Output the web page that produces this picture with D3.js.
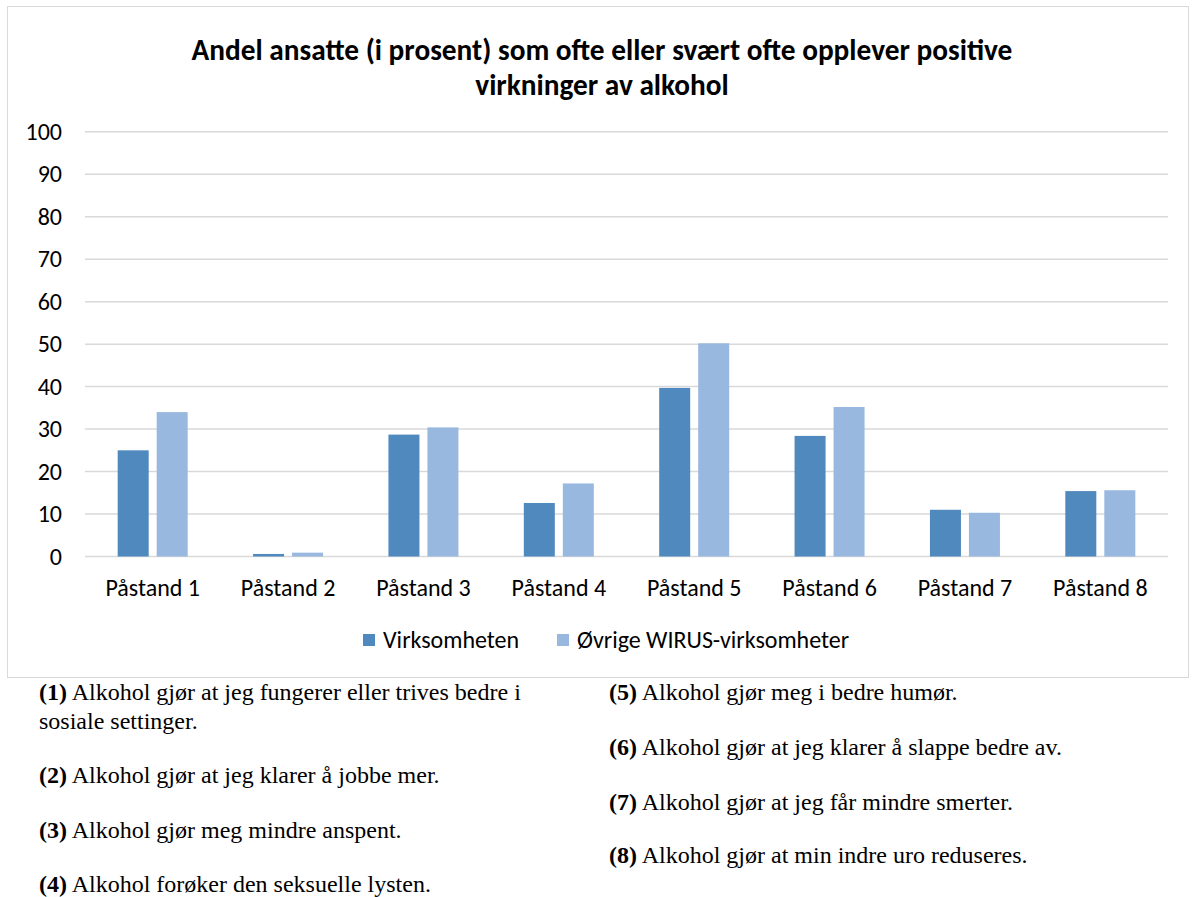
<!DOCTYPE html>
<html>
<head>
<meta charset="utf-8">
<script src="https://cdn.jsdelivr.net/npm/d3@7"></script>
<style>
  body { margin: 0; background: #fff; }
  svg { display: block; }
</style>
</head>
<body>
<script>
var categories = ["Påstand 1", "Påstand 2", "Påstand 3", "Påstand 4",
                  "Påstand 5", "Påstand 6", "Påstand 7", "Påstand 8"];
var seriesNames = ["Virksomheten", "Øvrige WIRUS-virksomheter"];
var virksomheten = [25.0, 0.6, 28.7, 12.6, 39.7, 28.4, 11.0, 15.4];
var ovrige = [34.0, 0.9, 30.4, 17.2, 50.2, 35.2, 10.3, 15.6];
var yTicks = [0, 10, 20, 30, 40, 50, 60, 70, 80, 90, 100];
var titleLines = ["Andel ansatte (i prosent) som ofte eller svært ofte opplever positive",
                  "virkninger av alkohol"];
var notesLeft = [["(1)", " Alkohol gjør at jeg fungerer eller trives bedre i", "sosiale settinger."],
                 ["(2)", " Alkohol gjør at jeg klarer å jobbe mer."],
                 ["(3)", " Alkohol gjør meg mindre anspent."],
                 ["(4)", " Alkohol forøker den seksuelle lysten."]];
var notesRight = [["(5)", " Alkohol gjør meg i bedre humør."],
                  ["(6)", " Alkohol gjør at jeg klarer å slappe bedre av."],
                  ["(7)", " Alkohol gjør at jeg får mindre smerter."],
                  ["(8)", " Alkohol gjør at min indre uro reduseres."]];

var colors = ["#4f89bd", "#98b8df"];
var sansFont = "Carlito, Calibri, Lato, sans-serif";
var serifFont = "'Liberation Serif', 'Times New Roman', serif";

var svg = d3.select("body").append("svg")
            .attr("width", 1192)
            .attr("height", 897);

// chart frame
svg.append("rect")
   .attr("x", 7.5).attr("y", 6.5)
   .attr("width", 1181).attr("height", 671)
   .attr("fill", "#fff")
   .attr("stroke", "#d9d9d9")
   .attr("stroke-width", 1);

// title
svg.append("g").selectAll("text")
   .data(titleLines)
   .join("text")
   .attr("x", 602)
   .attr("y", function (d, i) { return 60 + i * 34.5; })
   .attr("text-anchor", "middle")
   .style("font-family", sansFont)
   .style("font-weight", "bold")
   .style("font-size", "29.3px")
   .attr("fill", "#000")
   .text(function (d) { return d; });

var y = d3.scaleLinear().domain([0, 100]).range([556.5, 131.8]);
var x0 = d3.scaleBand().domain(categories).range([85, 1168]).padding(0);
var x1 = d3.scaleBand().domain(seriesNames).range([-35, 35]).paddingInner(0.205);

// gridlines
svg.append("g").selectAll("line")
   .data(yTicks)
   .join("line")
   .attr("x1", 85).attr("x2", 1168)
   .attr("y1", function (d) { return y(d); })
   .attr("y2", function (d) { return y(d); })
   .attr("stroke", "#d9d9d9")
   .attr("stroke-width", 1.5);

// y axis labels
var yAxis = svg.append("g")
               .attr("transform", "translate(70,0)")
               .call(d3.axisLeft(y).tickValues(yTicks).tickSize(0).tickPadding(8));
yAxis.select(".domain").remove();
yAxis.selectAll("text")
     .style("font-family", sansFont)
     .style("font-size", "24px")
     .attr("fill", "#000");

// bars
var rows = categories.map(function (c, i) {
  return { cat: c, vals: [virksomheten[i], ovrige[i]] };
});
var groups = svg.append("g").selectAll("g")
                .data(rows)
                .join("g")
                .attr("transform", function (d) {
                  return "translate(" + (x0(d.cat) + x0.bandwidth() / 2) + ",0)";
                });
groups.selectAll("rect")
      .data(function (d) {
        return d.vals.map(function (v, k) { return { name: seriesNames[k], v: v, k: k }; });
      })
      .join("rect")
      .attr("x", function (d) { return x1(d.name); })
      .attr("width", x1.bandwidth())
      .attr("y", function (d) { return y(d.v); })
      .attr("height", function (d) { return y(0) - y(d.v); })
      .attr("fill", function (d) { return colors[d.k]; });

// category labels
var xAxis = svg.append("g")
               .attr("transform", "translate(0," + y(0) + ")")
               .call(d3.axisBottom(x0).tickSize(0).tickPadding(22));
xAxis.select(".domain").remove();
xAxis.selectAll("text")
     .style("font-family", sansFont)
     .style("font-size", "24px")
     .attr("fill", "#000");

// legend
var legendX = [363, 557];
var legend = svg.append("g").selectAll("g")
                .data(seriesNames)
                .join("g")
                .attr("transform", function (d, i) { return "translate(" + legendX[i] + ",634)"; });
legend.append("rect")
      .attr("width", 12).attr("height", 12)
      .attr("fill", function (d, i) { return colors[i]; });
legend.append("text")
      .attr("x", 20).attr("y", 14)
      .style("font-family", sansFont)
      .style("font-size", "24px")
      .text(function (d) { return d; });

// notes under the chart
function drawNotes(notes, left, lineY) {
  var g = svg.append("g");
  notes.forEach(function (n, i) {
    var t = g.append("text")
             .attr("x", left).attr("y", lineY[i])
             .style("font-family", serifFont)
             .style("font-size", "24px")
             .attr("fill", "#000");
    t.append("tspan").style("font-weight", "bold").text(n[0]);
    t.append("tspan").text(n[1]);
    if (n[2]) {
      g.append("text")
       .attr("x", left).attr("y", lineY[i] + 28.5)
       .style("font-family", serifFont)
       .style("font-size", "24px")
       .text(n[2]);
    }
  });
}
drawNotes(notesLeft, 39, [700, 783, 838, 892]);
drawNotes(notesRight, 609, [700, 755, 810, 863]);
</script>
</body>
</html>
